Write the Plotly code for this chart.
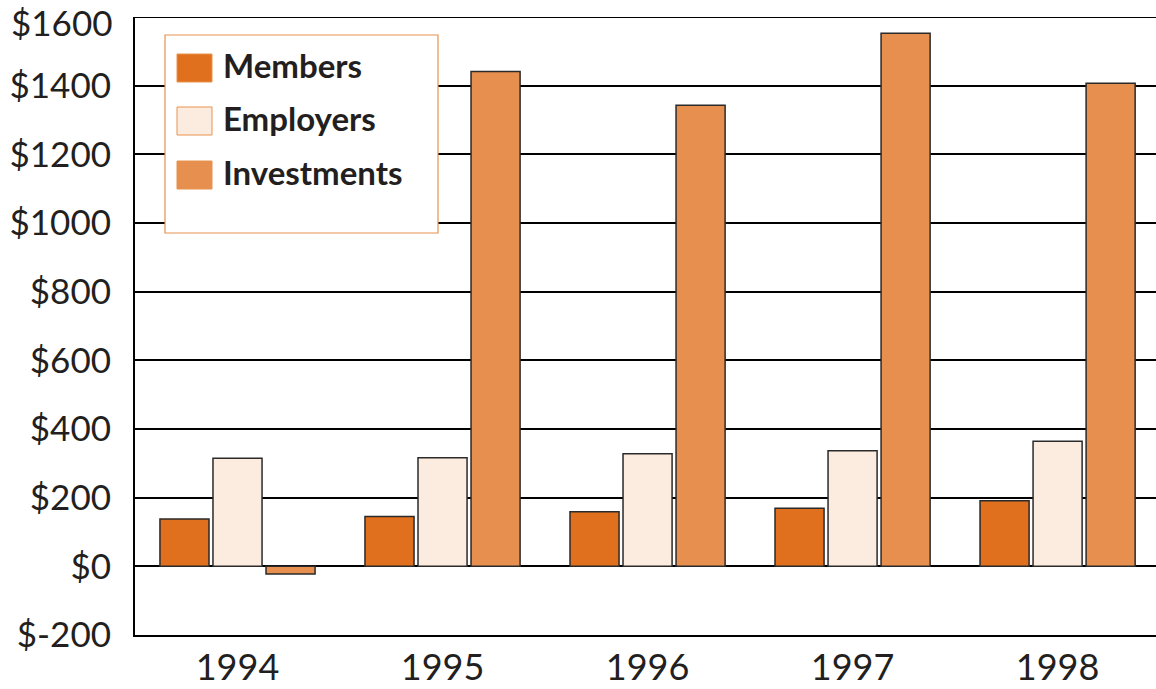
import plotly.graph_objects as go

years = ["1994", "1995", "1996", "1997", "1998"]
members = [138, 145, 159, 169, 191]
employers = [315, 316, 328, 337, 364]
investments = [-22, 1441, 1343, 1553, 1407]
series_names = ["Members", "Employers", "Investments"]
colors = ["#E0701E", "#FCECDF", "#E78F4E"]
tick_vals = [-200, 0, 200, 400, 600, 800, 1000, 1200, 1400, 1600]
tick_text = ["$" + str(v) for v in tick_vals]

W, H = 1156, 689
L, R, T, B = 135, 0, 17, 54
pw, ph = W - L - R, H - T - B

fig = go.Figure()
for name, vals, col in zip(series_names, [members, employers, investments], colors):
    fig.add_trace(go.Bar(
        x=years, y=vals, name=name, marker=dict(color=col, line=dict(color="#2a2a2a", width=1.5)),
        showlegend=False,
    ))

def px2paper(x, y):
    return (x - L) / pw, (H - B - y) / ph

shapes = []
annotations = []
# top frame line at the axis maximum
shapes.append(dict(type="line", xref="paper", yref="y", x0=0, x1=1, y0=1600, y1=1600,
                   line=dict(color="black", width=2)))
x0, y0 = px2paper(165, 35)
x1, y1 = px2paper(438, 233)
shapes.append(dict(type="rect", xref="paper", yref="paper", x0=x0, y0=y1, x1=x1, y1=y0,
                   line=dict(color="#E8924F", width=1.2), fillcolor="white", layer="above"))
sym_tops = [54, 107, 161]
for name, col, top in zip(series_names, colors, sym_tops):
    sx0, sy0 = px2paper(177, top)
    sx1, sy1 = px2paper(212, top + 28)
    shapes.append(dict(type="rect", xref="paper", yref="paper", x0=sx0, y0=sy1, x1=sx1, y1=sy0,
                       line=dict(color="#E8924F", width=1), fillcolor=col, layer="above"))
    tx, ty = px2paper(221, top + 11)
    annotations.append(dict(x=tx, y=ty, xref="paper", yref="paper", text="<b>" + name + "</b>",
                            showarrow=False, xanchor="left", yanchor="middle",
                            font=dict(family="Lato", size=33, color="#231F20")))

# topmost tick label placed so that it stays inside the page
top_label = tick_text[-1]
tick_text_axis = tick_text[:-1] + [""]
lx, ly = px2paper(0, 0)
annotations.append(dict(x=0, y=1, xref="paper", yref="paper", text=top_label, showarrow=False,
                        xanchor="right", yanchor="top", xshift=-20, yshift=(ly - 1) * ph + 1,
                        font=dict(family="Lato", size=35, color="#231F20")))

fig.update_layout(
    width=W, height=H,
    margin=dict(l=L, r=R, t=T, b=B, pad=0, autoexpand=False),
    paper_bgcolor="white", plot_bgcolor="white",
    barmode="group", bargap=0.224, bargroupgap=0.075,
    shapes=shapes, annotations=annotations,
    font=dict(family="Lato", color="#231F20"),
    xaxis=dict(range=[-0.5, 4.48], showgrid=False, showline=True, linecolor="black", linewidth=2,
               ticks="", tickfont=dict(size=36, color="#231F20"), fixedrange=True,
               ticklabelstandoff=0, automargin=False),
    yaxis=dict(range=[-200, 1600], tickvals=tick_vals, ticktext=tick_text_axis,
               showgrid=True, gridcolor="black", gridwidth=2,
               zeroline=True, zerolinecolor="black", zerolinewidth=2,
               showline=True, linecolor="black", linewidth=2, ticks="",
               tickfont=dict(size=35, color="#231F20"), ticklabelstandoff=15,
               ticklabeloverflow="allow", automargin=False),
)
fig.write_html("out.html")
